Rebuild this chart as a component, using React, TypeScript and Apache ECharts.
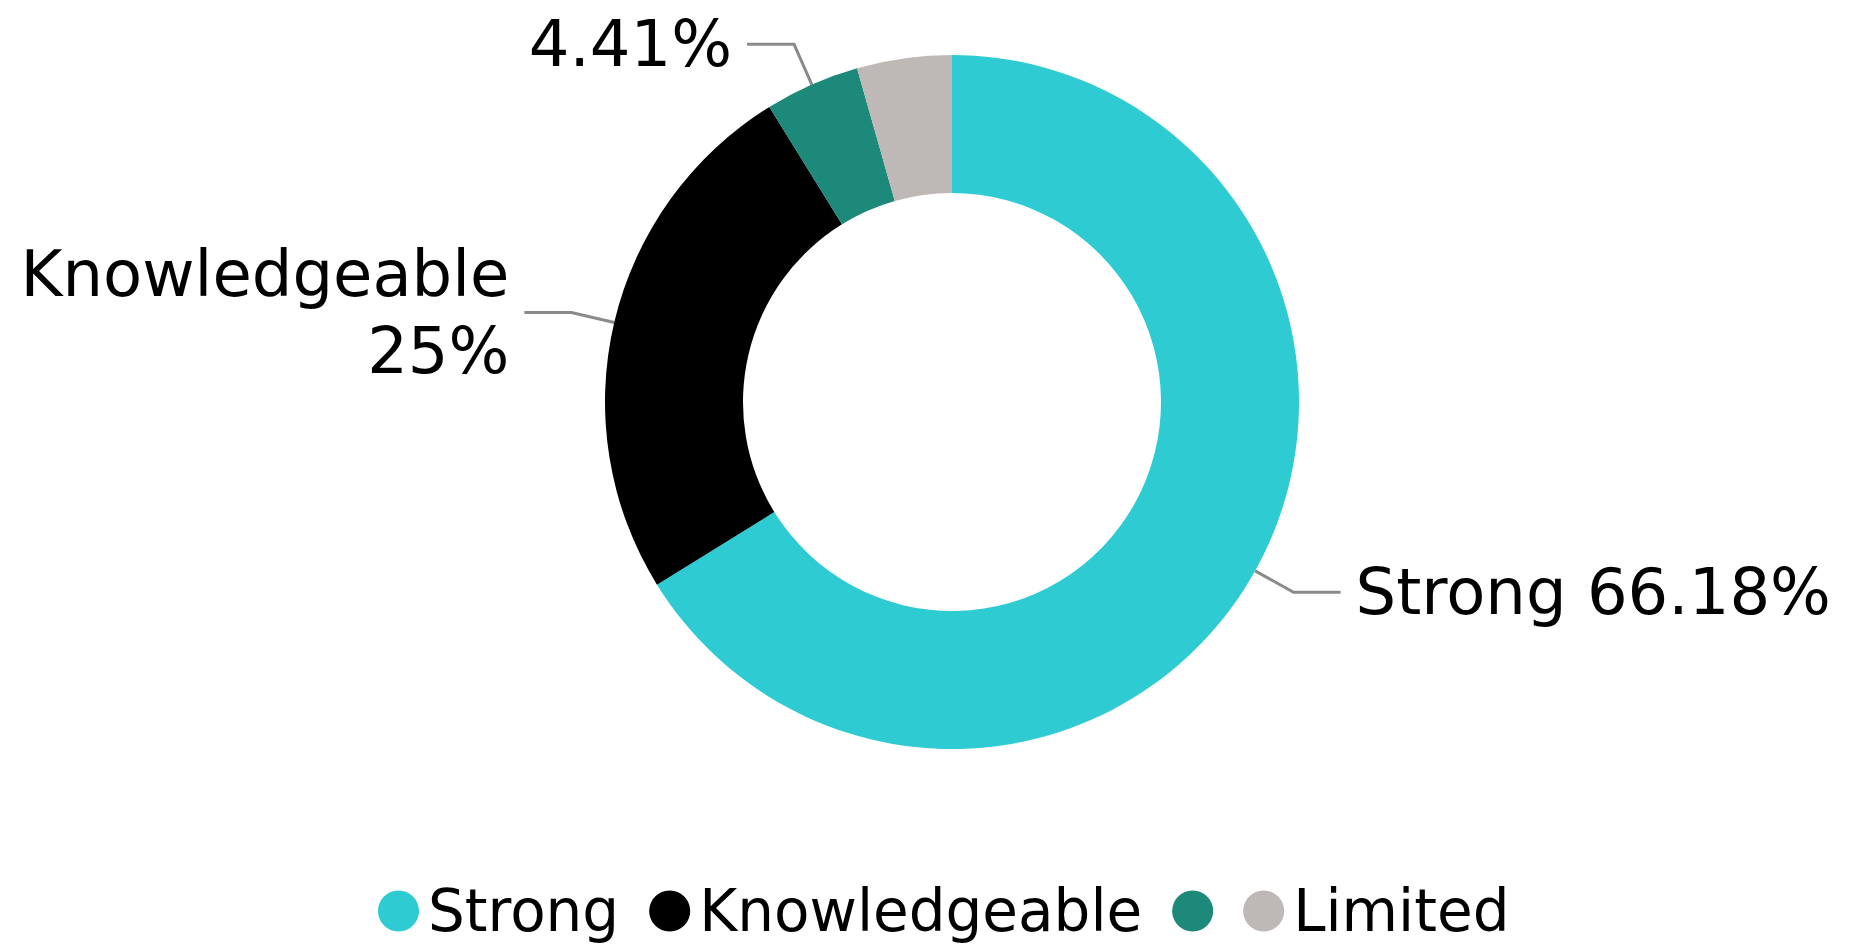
import React, { useEffect, useRef } from "react";
import * as echarts from "echarts";

const categories = ["Strong", "Knowledgeable", "", "Limited"];
const values = [45, 17, 3, 3];
const colors = ["#2ECBD3", "#000000", "#1D897A", "#BEB9B6"];
const labelShown = [true, true, true, false];

export default function App() {
  const ref = useRef<HTMLDivElement>(null);
  useEffect(() => {
    if (!ref.current) return;
    const chart = echarts.init(ref.current, null, { renderer: "svg" });
    const font = "'DejaVu Sans', Verdana, sans-serif";
    chart.setOption({
      animation: false,
      backgroundColor: "#ffffff",
      color: colors,
      legend: {
        left: 373,
        top: 877,
        icon: "circle",
        itemWidth: 41,
        itemHeight: 41,
        itemGap: 30,
        data: categories.map((c) => (c === "" ? " " : c)),
        formatter: (name: string) => name.trim(),
        textStyle: {
          fontFamily: font,
          fontSize: 58,
          color: "#000000",
          padding: [0, 0, 0, 4],
        },
      },
      series: [
        {
          type: "pie",
          center: [952, 402],
          radius: [209, 347],
          startAngle: 90,
          clockwise: true,
          avoidLabelOverlap: true,
          label: {
            show: true,
            position: "outer",
            fontFamily: font,
            fontSize: 64,
            color: "#000000",
            lineHeight: 77,
            overflow: "break",
            distanceToLabelLine: 15,
            formatter: (p: any) => {
              const n = String(p.name).trim();
              return n ? `${n} ${p.percent}%` : `${p.percent}%`;
            },
          },
          labelLine: {
            show: true,
            length: 44,
            length2: 47,
            lineStyle: { color: "#8a8a8a", width: 3 },
          },
          data: categories.map((c, i) => ({
            name: c === "" ? " " : c,
            value: values[i],
            label: { show: labelShown[i] },
            labelLine: { show: labelShown[i] },
          })),
        },
      ],
    });
    return () => chart.dispose();
  }, []);
  return (
    <div
      ref={ref}
      style={{ position: "absolute", left: 0, top: 0, width: 1861, height: 948 }}
    />
  );
}
